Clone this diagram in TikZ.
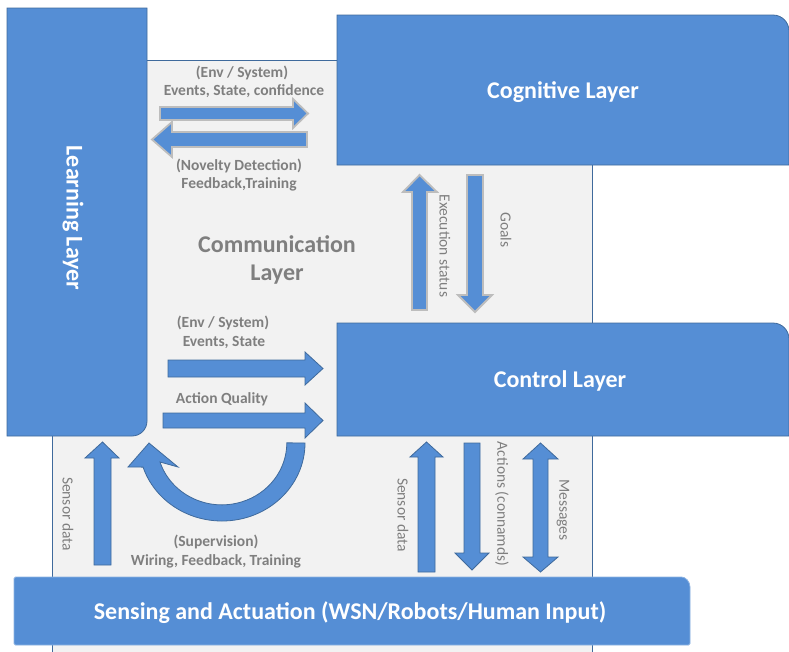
\documentclass[tikz,border=0pt]{standalone}
\usepackage{fontspec}
\setmainfont{Carlito}
\definecolor{layerblue}{HTML}{558ED5}
\definecolor{edgeblue}{HTML}{3F6A9C}
\definecolor{lightedge}{HTML}{8DB3E2}
\definecolor{commgray}{HTML}{F2F2F2}
\definecolor{labelgray}{HTML}{7F7F7F}
\definecolor{rimgray}{HTML}{BDBDBD}
\begin{document}
\begin{tikzpicture}[x=1pt,y=-1pt,
  layer/.style={fill=layerblue, draw=edgeblue, line width=0.8pt},
  bigtext/.style={font=\fontsize{24}{28}\selectfont\bfseries, text=white},
  commtext/.style={font=\fontsize{24}{28.5}\selectfont\bfseries, text=labelgray, align=center},
  lbl/.style={font=\fontsize{15.5}{18.5}\selectfont\bfseries, text=labelgray, align=center},
  vlbl/.style={font=\fontsize{15.5}{18}\selectfont, text=labelgray, rotate=-90},
  softarrow/.style={fill=layerblue, draw=rimgray, line width=1.8pt, line join=miter},
  darkarrow/.style={fill=layerblue, draw=edgeblue, line width=0.8pt, line join=miter},
]
\useasboundingbox (0,0) rectangle (789,651);
\clip (0,0) rectangle (789,651);

% communication layer background
\draw[fill=commgray, draw=edgeblue, line width=0.8pt] (52,60) rectangle (592,670);

% learning layer (rounded lower right corner)
\draw[layer] (7,8) -- (147,8) -- (147,421)
  arc[start angle=0, end angle=90, radius=15] -- (7,436) -- cycle;
\node[bigtext, rotate=-90] (learn) at (73,218) {Learning Layer};

% cognitive layer
\draw[layer] (337,165) -- (337,15) -- (773,15)
  arc[start angle=-90, end angle=0, radius=16] -- (789,165) -- cycle;
\node[bigtext] (cog) at (563,92) {Cognitive Layer};

% control layer
\draw[layer] (337,436) -- (337,323) -- (773,323)
  arc[start angle=-90, end angle=0, radius=16] -- (789,436) -- cycle;
\node[bigtext] (ctrl) at (560,381) {Control Layer};

% sensing and actuation layer
\draw[fill=layerblue, draw=lightedge, line width=0.8pt, rounded corners=1.5pt]
  (14,645) -- (14,577) -- (680,577) [sharp corners]
  arc[start angle=-90, end angle=0, radius=10] [rounded corners=1.5pt] -- (690,645) -- cycle;
\node[bigtext] (sense) at (350,613) {Sensing and Actuation (WSN/Robots/Human Input)};

% communication layer title
\node[commtext] (comm) at (277,260) {Communication\\Layer};

% learning <-> cognitive
\draw[softarrow] (160,107) -- (293,107) -- (293,99) -- (308,113.5) -- (293,128) -- (293,120) -- (160,120) -- cycle;
\draw[softarrow] (307,132) -- (172,132) -- (172,122) -- (152,139.5) -- (172,157) -- (172,147) -- (307,147) -- cycle;
\node[lbl] (envA) at (242,73) {(Env / System)};
\node[lbl] (evA) at (244,91) {Events, State, confidence};
\node[lbl] (nov) at (239,166) {(Novelty Detection)};
\node[lbl] (fbt) at (239,184) {Feedback,Training};

% cognitive <-> control
\draw[softarrow] (412,310) -- (412,192) -- (403,192) -- (419.5,175) -- (437,192) -- (427,192) -- (427,310) -- cycle;
\draw[softarrow] (467,175) -- (467,295) -- (458,295) -- (475,312) -- (492,295) -- (483,295) -- (483,175) -- cycle;
\node[vlbl] (exec) at (445,246) {Execution status};
\node[vlbl] (goals) at (506,230) {Goals};

% learning -> control
\draw[darkarrow] (168,360) -- (305,360) -- (305,352) -- (323,368.5) -- (305,385) -- (305,377) -- (168,377) -- cycle;
\draw[darkarrow] (163,413) -- (305,413) -- (305,403) -- (323,420.5) -- (305,438) -- (305,428) -- (163,428) -- cycle;
\node[lbl] (envB) at (223,323) {(Env / System)};
\node[lbl] (evB) at (224,342) {Events, State};
\node[lbl] (aq) at (222,399) {Action Quality};

% supervision loop back to the learning layer
\draw[darkarrow] (305,443) arc[start angle=0, end angle=162, x radius=83, y radius=78]
  -- (128,467) -- (149,443) -- (178,467) -- (160,462)
  arc[start angle=162, end angle=0, x radius=65, y radius=62] -- cycle;
\node[lbl] (sup) at (216,542) {(Supervision)};
\node[lbl] (wir) at (216,561) {Wiring, Feedback, Training};

% sensing -> learning
\draw[darkarrow] (94,565) -- (94,458) -- (85,458) -- (102.5,442) -- (119,458) -- (111,458) -- (111,565) -- cycle;
\node[vlbl] (sdA) at (68,514) {Sensor data};

% sensing <-> control
\draw[darkarrow] (418,572) -- (418,457) -- (410,457) -- (426.5,442) -- (443,457) -- (435,457) -- (435,572) -- cycle;
\draw[darkarrow] (464,443) -- (464,553) -- (455,553) -- (472,570) -- (489,553) -- (480,553) -- (480,443) -- cycle;
\draw[darkarrow] (540.5,443) -- (558,459) -- (548,459) -- (548,557) -- (558,557) -- (540.5,572)
  -- (523,557) -- (533,557) -- (533,459) -- (523,459) -- cycle;
\node[vlbl] (sdB) at (403,515) {Sensor data};
\node[vlbl] (act) at (502,504) {Actions (connamds)};
\node[vlbl] (msg) at (563,510) {Messages};
\end{tikzpicture}
\end{document}
